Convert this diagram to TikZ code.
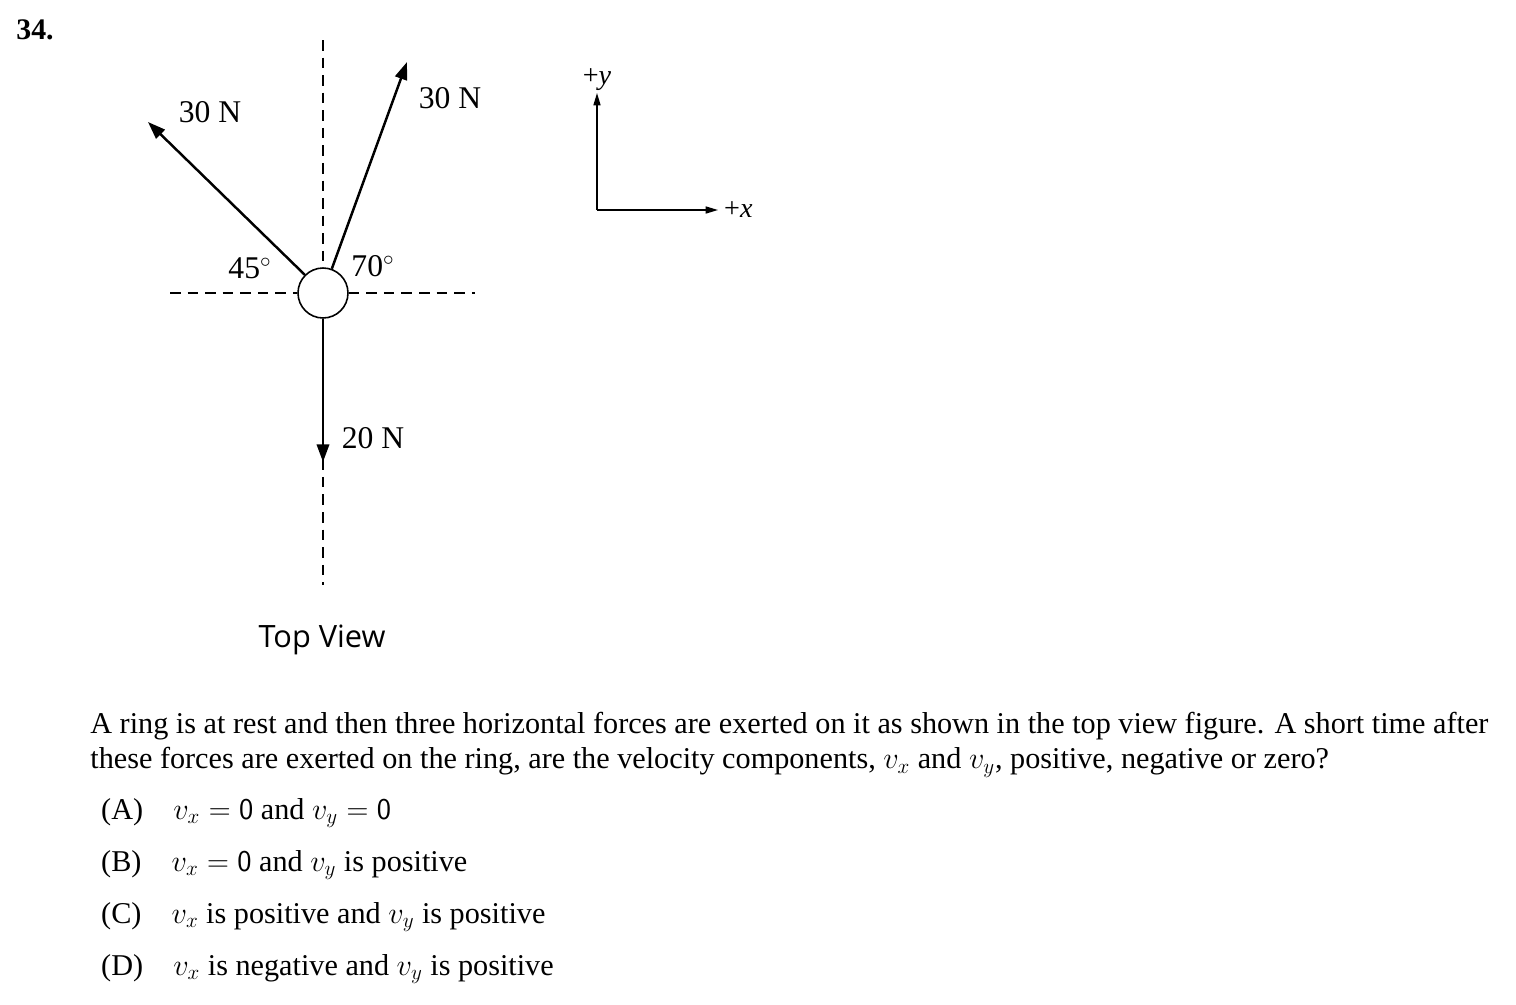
\documentclass[tikz,border=0pt]{standalone}
\usepackage{fontspec}
\setmainfont{Liberation Serif}
\newfontfamily\viewfont{Open Sans}
\usepackage{amsmath}
\usetikzlibrary{arrows.meta, positioning}

\begin{document}
\begin{tikzpicture}[x=0.02cm, y=-0.02cm, font=\fontsize{17.2}{20}\selectfont,
    force/.style={line width=1.4pt, -{Triangle[length=10pt, width=7pt]}},
    guide/.style={dashed, line width=0.6pt, dash pattern=on 6pt off 4pt},
    axis/.style={line width=0.8pt, -{Triangle[length=7pt, width=4pt]}},
    flabel/.style={font=\fontsize{18}{20}\selectfont}]
    \useasboundingbox (0,0) rectangle (1516,1005);

    \node[font=\fontsize{17}{20}\selectfont\bfseries] (num) at (35,30) {34.};

    % ring and guide lines
    \node[circle, draw, line width=0.9pt, minimum size=1cm, inner sep=0pt] (ring) at (323,293) {};
    \coordinate (gl) at (170,293);
    \coordinate (gr) at (475,293);
    \coordinate (gt) at (323,40);
    \coordinate (gb) at (323,585);
    \draw[guide] (gl) -- (ring.west);
    \draw[guide] (ring.east) -- (gr);
    \draw[guide] (gt) -- (ring.north);
    \draw[guide] (ring.south) -- (gb);

    % forces
    \coordinate (tipA) at (148,122);
    \coordinate (tipB) at (407,62);
    \coordinate (tipC) at (323,462);
    \draw[force] (ring.135) -- (tipA);
    \draw[force] (ring.70) -- (tipB);
    \draw[force] (ring.south) -- (tipC);

    \node[flabel] (fA) at (210,112) {30 N};
    \node[flabel] (fB) at (450,98) {30 N};
    \node[flabel] (fC) at (373,438) {20 N};
    \node[flabel] (angA) at (250,268) {45$^\circ$};
    \node[flabel] (angB) at (373,266) {70$^\circ$};

    % axes
    \coordinate (org) at (597,210);
    \coordinate (yend) at (597,93);
    \coordinate (xend) at (718,210);
    \draw[axis] (org) -- (yend);
    \draw[axis] (org) -- (xend);
    \node[above=-2pt of yend, font=\fontsize{16}{18}\selectfont] (ylab) {+\textit{y}};
    \node[right=0pt of xend, font=\fontsize{16}{18}\selectfont] (xlab) {+\textit{x}};

    \node[font=\viewfont\fontsize{17.5}{20}\selectfont] (view) at (322,640) {Top View};

    % question
    \node[anchor=north west, align=left, inner sep=0pt] (q) at (90,712)
      {A ring is at rest and then three horizontal forces are exerted on it as shown in the top view figure. A short time after\\
       these forces are exerted on the ring, are the velocity components, $v_x$ and $v_y$, positive, negative or zero?};
    \node[anchor=west] (ca) at (95,813) {(A)\quad $v_x = \mathsf{0}$ and $v_y = \mathsf{0}$};
    \node[anchor=west] (cb) at (95,865) {(B)\quad $v_x = \mathsf{0}$ and $v_y$ is positive};
    \node[anchor=west] (cc) at (95,917) {(C)\quad $v_x$ is positive and $v_y$ is positive};
    \node[anchor=west] (cd) at (95,969) {(D)\quad $v_x$ is negative and $v_y$ is positive};
\end{tikzpicture}
\end{document}
